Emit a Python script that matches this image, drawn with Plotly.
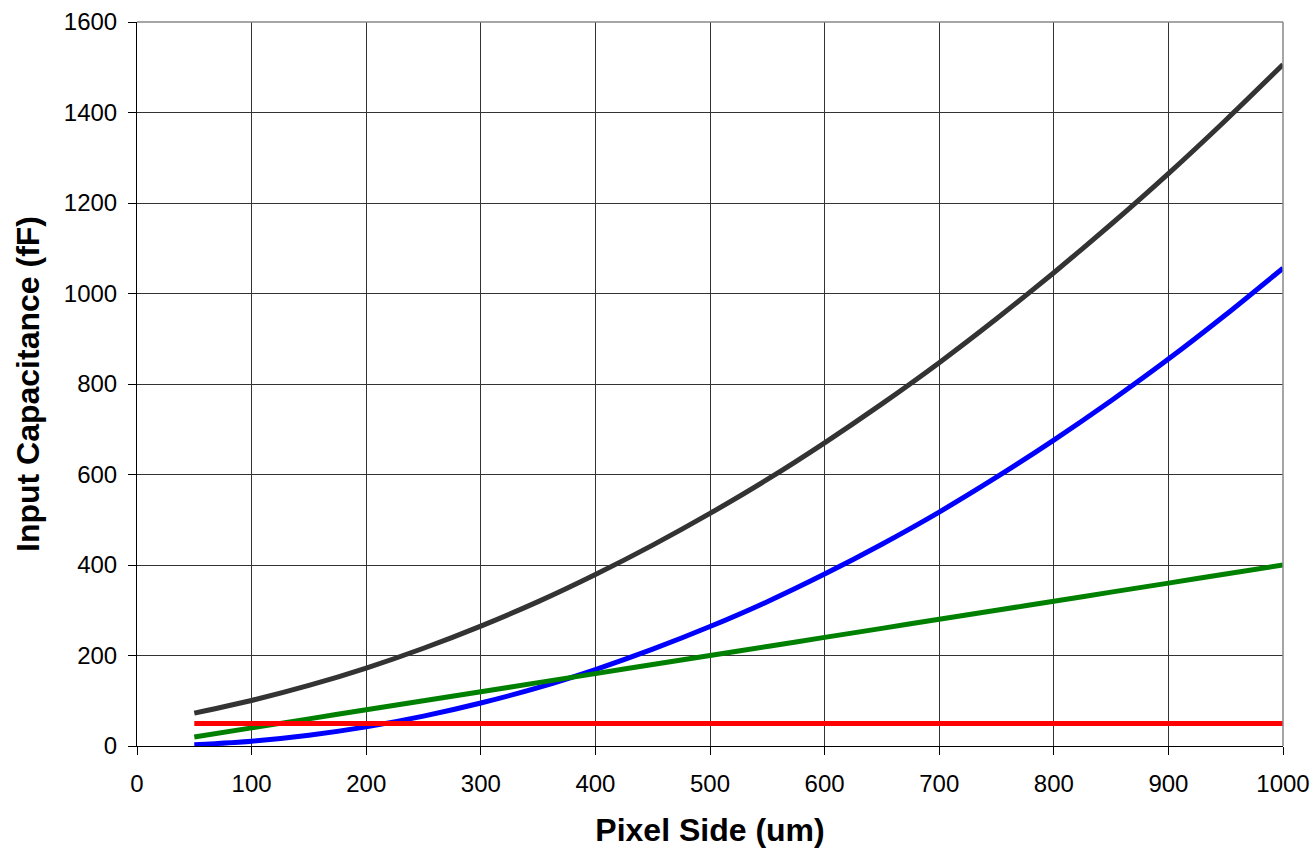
import plotly.graph_objects as go

pixel_side = [50, 100, 150, 200, 250, 300, 350, 400, 450, 500,
              550, 600, 650, 700, 750, 800, 850, 900, 950, 1000]
total_cap = [72.6, 100.6, 133.8, 172.2, 216, 265, 319, 379, 444, 514,
             589, 670, 756, 847, 944, 1046, 1153, 1265, 1383, 1506]
area_cap = [2.6, 10.6, 23.8, 42.2, 66, 95, 129, 169, 214, 264,
            319, 380, 446, 517, 594, 676, 763, 855, 953, 1056]
perim_cap = [20, 40, 60, 80, 100, 120, 140, 160, 180, 200,
             220, 240, 260, 280, 300, 320, 340, 360, 380, 400]
fixed_cap = [50] * 20

series = [
    ("Total", total_cap, "#333333"),
    ("Area", area_cap, "#0000ff"),
    ("Perimeter", perim_cap, "#008000"),
    ("Fixed", fixed_cap, "#ff0000"),
]

fig = go.Figure()
for name, vals, col in series:
    fig.add_trace(go.Scatter(x=pixel_side, y=vals, mode="lines", name=name,
                             line=dict(color=col, width=5, shape="spline", smoothing=0.6)))

font_family = "Liberation Sans, Arial, Helvetica, sans-serif"

fig.update_layout(
    width=1314, height=850,
    margin=dict(l=137, r=31, t=22, b=104),
    plot_bgcolor="white", paper_bgcolor="white",
    showlegend=False,
    font=dict(family=font_family, size=24, color="black"),
    xaxis=dict(
        range=[0, 1000], dtick=100, tick0=0, automargin=False,
        showgrid=True, gridcolor="#333333", gridwidth=1,
        showline=True, linecolor="black", linewidth=1,
        ticks="outside", ticklen=8, tickcolor="black", ticklabelstandoff=8,
        tickfont=dict(size=24), zeroline=False,
        title=dict(text="<b>Pixel Side (um)</b>", font=dict(size=32), standoff=22),
    ),
    yaxis=dict(
        range=[0, 1600], dtick=200, tick0=0, automargin=False,
        showgrid=True, gridcolor="#333333", gridwidth=1,
        showline=True, linecolor="black", linewidth=1,
        ticks="outside", ticklen=8, tickcolor="black", ticklabelstandoff=6,
        tickfont=dict(size=24), zeroline=False,
        title=dict(text="<b>Input Capacitance (fF)</b>", font=dict(size=32), standoff=14),
    ),
    shapes=[
        dict(type="line", xref="x domain", yref="y domain", x0=0, x1=1, y0=1, y1=1,
             line=dict(color="#888888", width=1.5)),
        dict(type="line", xref="x domain", yref="y domain", x0=1, x1=1, y0=0, y1=1,
             line=dict(color="#888888", width=1.5)),
    ],
)

fig.write_html("out.html",
               config={"displayModeBar": False},
               post_script="document.body.style.margin='0';document.body.style.overflow='hidden';")
